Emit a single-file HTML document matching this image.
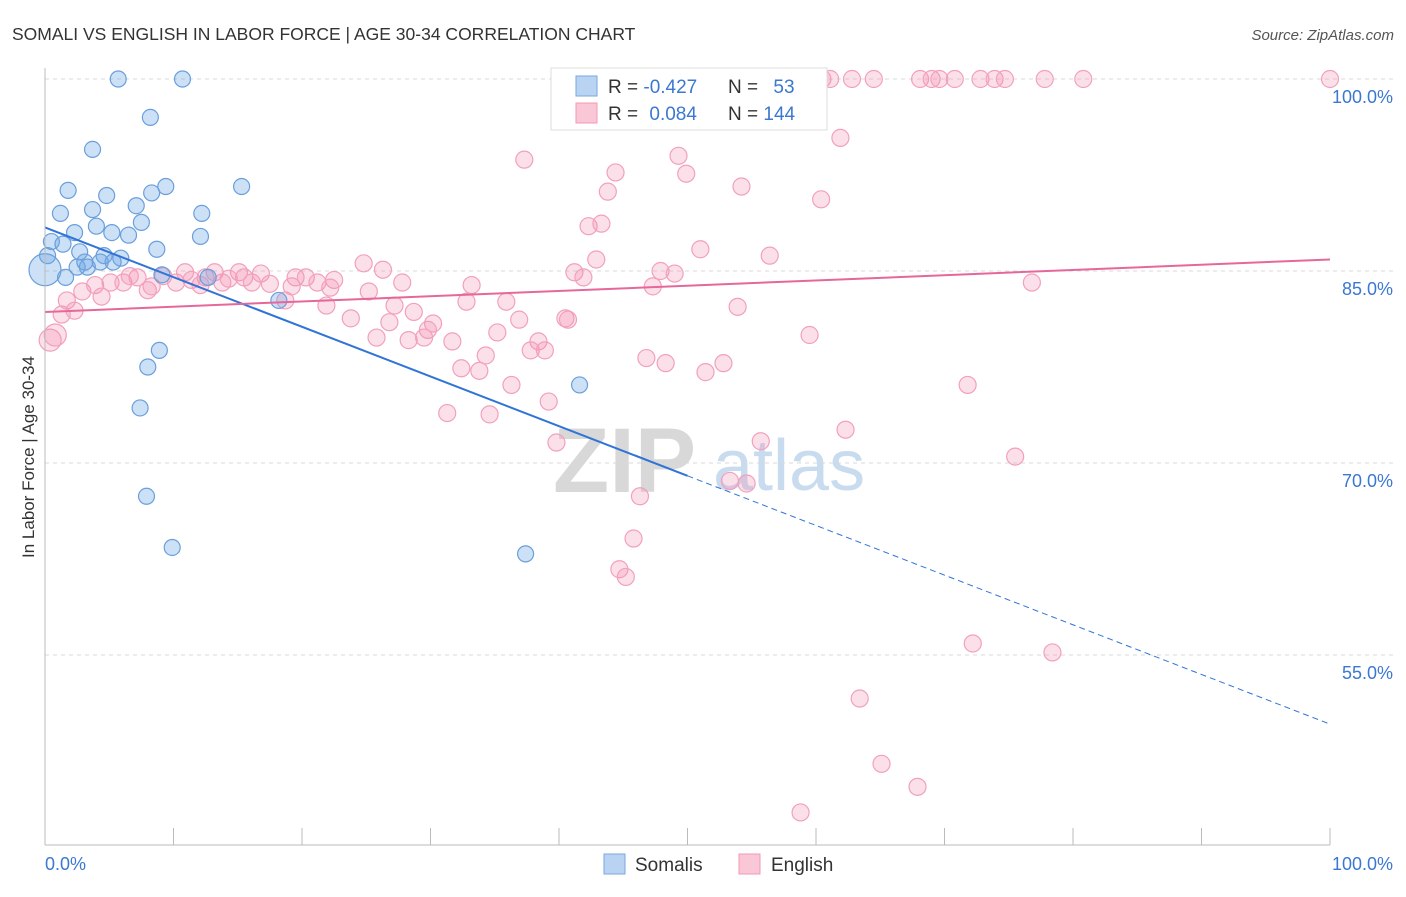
<!DOCTYPE html>
<html><head><meta charset="utf-8"><style>
body{margin:0;background:#fff;font-family:"Liberation Sans",sans-serif;}
svg text{font-family:"Liberation Sans",sans-serif;}
</style></head><body>
<svg id="chart" width="1406" height="892" xmlns="http://www.w3.org/2000/svg">
<text x="12" y="40" font-size="17.5" fill="#333">SOMALI VS ENGLISH IN LABOR FORCE | AGE 30-34 CORRELATION CHART</text>
<text x="1394" y="40" font-size="15" fill="#555" font-style="italic" text-anchor="end">Source: ZipAtlas.com</text>
<text x="34" y="457" font-size="17" fill="#333" text-anchor="middle" transform="rotate(-90 34 457)">In Labor Force | Age 30-34</text>
<text x="553" y="492" font-size="92" fill="#d8d8d8" font-family="Liberation Serif" font-weight="bold">ZIP</text>
<text x="713" y="490" font-size="72" fill="#c9dcef">atlas</text>
<g id="grid"></g><g id="pts"></g><g id="trend"></g>
<line x1="45" y1="845" x2="1330" y2="845" stroke="#bbb"/>
<line x1="45" y1="68" x2="45" y2="845" stroke="#bbb"/>
<text x="45" y="870" font-size="18" fill="#3b78d0">0.0%</text>
<text x="1393" y="870" font-size="18" fill="#3b78d0" text-anchor="end">100.0%</text>
<g>
<rect x="551" y="68" width="276" height="62" fill="#fff" stroke="#ddd"/>
<rect x="576" y="76" width="21" height="20" fill="#b9d4f3" stroke="#7aa7dd"/>
<rect x="576" y="103" width="21" height="20" fill="#fac7d6" stroke="#f19ab7"/>
<text x="608" y="93" font-size="19" fill="#333">R = <tspan fill="#3b78d0">-0.427</tspan></text>
<text x="728" y="93" font-size="19" fill="#333">N = <tspan fill="#3b78d0" dx="10">53</tspan></text>
<text x="608" y="120" font-size="19" fill="#333">R = <tspan fill="#3b78d0" dx="6">0.084</tspan></text>
<text x="728" y="120" font-size="19" fill="#333">N = <tspan fill="#3b78d0">144</tspan></text>
</g>
<g>
<rect x="604" y="854" width="21" height="20" fill="#b9d4f3" stroke="#7aa7dd"/>
<text x="635" y="871" font-size="19" fill="#333">Somalis</text>
<rect x="739" y="854" width="21" height="20" fill="#fac7d6" stroke="#f19ab7"/>
<text x="771" y="871" font-size="19" fill="#333">English</text>
</g>
</svg>
<script>
const yTicks=[100,85,70,55];
const xTicks=[0,10,20,30,40,50,60,70,80,90,100];
const somaliX=[5.7,10.7,8.2,3.7,1.8,4.8,9.4,8.3,15.3,1.2,3.7,7.1,12.2,4.0,7.5,2.3,5.2,6.5,12.1,8.7,0.5,1.4,2.7,4.6,5.9,0.2,3.3,2.5,1.6,5.3,9.1,12.7,18.2,8.9,8.0,7.4,7.9,9.9,41.6,37.4,0,4.3,3.1];
const somaliY=[100,100,97.0,94.5,91.3,90.9,91.6,91.1,91.6,89.5,89.8,90.1,89.5,88.5,88.8,88.0,88.0,87.8,87.7,86.7,87.3,87.1,86.5,86.2,86.0,86.2,85.3,85.3,84.5,85.7,84.7,84.5,82.7,78.8,77.5,74.3,67.4,63.4,76.1,62.9,85.1,85.7,85.7];
const englishX=[52.1,55.0,57.6,58.8,60.5,61.1,62.8,64.5,68.1,69.0,69.6,70.8,72.8,73.9,74.7,77.8,80.8,100,61.9,37.3,49.3,44.4,49.9,43.8,54.2,60.4,42.3,43.3,51.0,56.4,42.9,24.8,26.3,41.2,41.9,47.9,49.0,47.3,76.8,27.8,33.2,22.5,25.2,21.9,27.2,32.8,35.9,53.9,23.8,26.8,36.9,40.5,40.7,28.7,30.2,29.8,25.8,28.3,29.5,31.7,35.2,38.4,37.8,38.9,59.5,34.3,32.4,33.8,46.8,48.3,52.8,51.4,36.3,71.8,39.2,31.3,34.6,39.8,55.7,62.3,75.5,53.3,54.6,46.3,45.8,44.7,45.2,72.2,78.4,63.4,65.1,67.9,58.8,0.4,0.8,1.3,1.7,2.3,2.9,3.9,4.4,5.1,6.1,7.2,8.0,8.3,9.2,10.2,10.9,11.4,12.5,13.2,13.8,15.1,15.5,16.1,16.8,17.5,18.7,19.5,20.3,21.2,22.2,19.2,12.1,14.3,6.6];
const englishY=[100,100,100,100,100,100,100,100,100,100,100,100,100,100,100,100,100,100,95.4,93.7,94.0,92.7,92.6,91.2,91.6,90.6,88.5,88.7,86.7,86.2,85.9,85.6,85.1,84.9,84.5,85.0,84.8,83.8,84.1,84.1,83.9,84.3,83.4,82.3,82.3,82.6,82.6,82.2,81.3,81.0,81.2,81.3,81.2,81.8,80.9,80.4,79.8,79.6,79.8,79.5,80.2,79.5,78.8,78.8,80.0,78.4,77.4,77.2,78.2,77.8,77.8,77.1,76.1,76.1,74.8,73.9,73.8,71.6,71.7,72.6,70.5,68.6,68.4,67.4,64.1,61.7,61.1,55.9,55.2,51.6,46.5,44.7,42.7,79.6,80.0,81.6,82.7,81.9,83.4,83.9,83.0,84.1,84.1,84.5,83.5,83.8,84.6,84.1,84.9,84.3,84.5,84.9,84.1,84.9,84.5,84.1,84.8,84.0,82.7,84.5,84.5,84.1,83.7,83.8,83.9,84.4,84.6];
const somaliTrend=[88.4,69.0];
const englishTrend=[81.8,85.9];
const NS="http://www.w3.org/2000/svg";
const xs=v=>45+v*12.85, ys=v=>79+(100-v)*12.8;
function mk(tag,attrs,parent){const e=document.createElementNS(NS,tag);for(const k in attrs)e.setAttribute(k,attrs[k]);parent.appendChild(e);return e;}
const grid=document.getElementById('grid'),pts=document.getElementById('pts'),tr=document.getElementById('trend');
yTicks.forEach(t=>{
 const l=mk('line',{x1:45,x2:1394,y1:ys(t),y2:ys(t),stroke:'#d8d8d8','stroke-dasharray':'4,4'},grid);
 
 
 const tx=mk('text',{x:1393,y:ys(t)+24,'font-size':18,fill:'#3b78d0','text-anchor':'end'},grid);
 tx.textContent=t.toFixed(1)+'%';
 
 
});
xTicks.forEach(t=>{
 const l=mk('line',{x1:xs(t),x2:xs(t),y1:828,y2:845,stroke:'#bbb'},grid);
 
 
});
englishX.forEach((x,i)=>{
 const c=mk('circle',{cx:xs(x),cy:ys(englishY[i]),r:i>=93&&i<95?11:8.5,fill:'rgba(244,143,177,0.28)',stroke:'#f2a0bd','stroke-width':1.2},pts);
 
 
});
somaliX.forEach((x,i)=>{
 const c=mk('circle',{cx:xs(x),cy:ys(somaliY[i]),r:i==40?16:8,fill:'rgba(110,165,230,0.35)',stroke:'#6a9fdc','stroke-width':1.2},pts);
 
 
});
const sSlope=(somaliTrend[1]-somaliTrend[0])/50;
const s1=mk('line',{x1:xs(0),y1:ys(somaliTrend[0]),x2:xs(50),y2:ys(somaliTrend[1]),stroke:'#2f74d6','stroke-width':2},tr);


const s2=mk('line',{x1:xs(50),y1:ys(somaliTrend[1]),x2:xs(100),y2:ys(somaliTrend[0]+sSlope*100),stroke:'#2f74d6','stroke-width':1,'stroke-dasharray':'6,4'},tr);


const e1=mk('line',{x1:xs(0),y1:ys(englishTrend[0]),x2:xs(100),y2:ys(englishTrend[1]),stroke:'#e6679a','stroke-width':2},tr);


</script>
</body></html>
